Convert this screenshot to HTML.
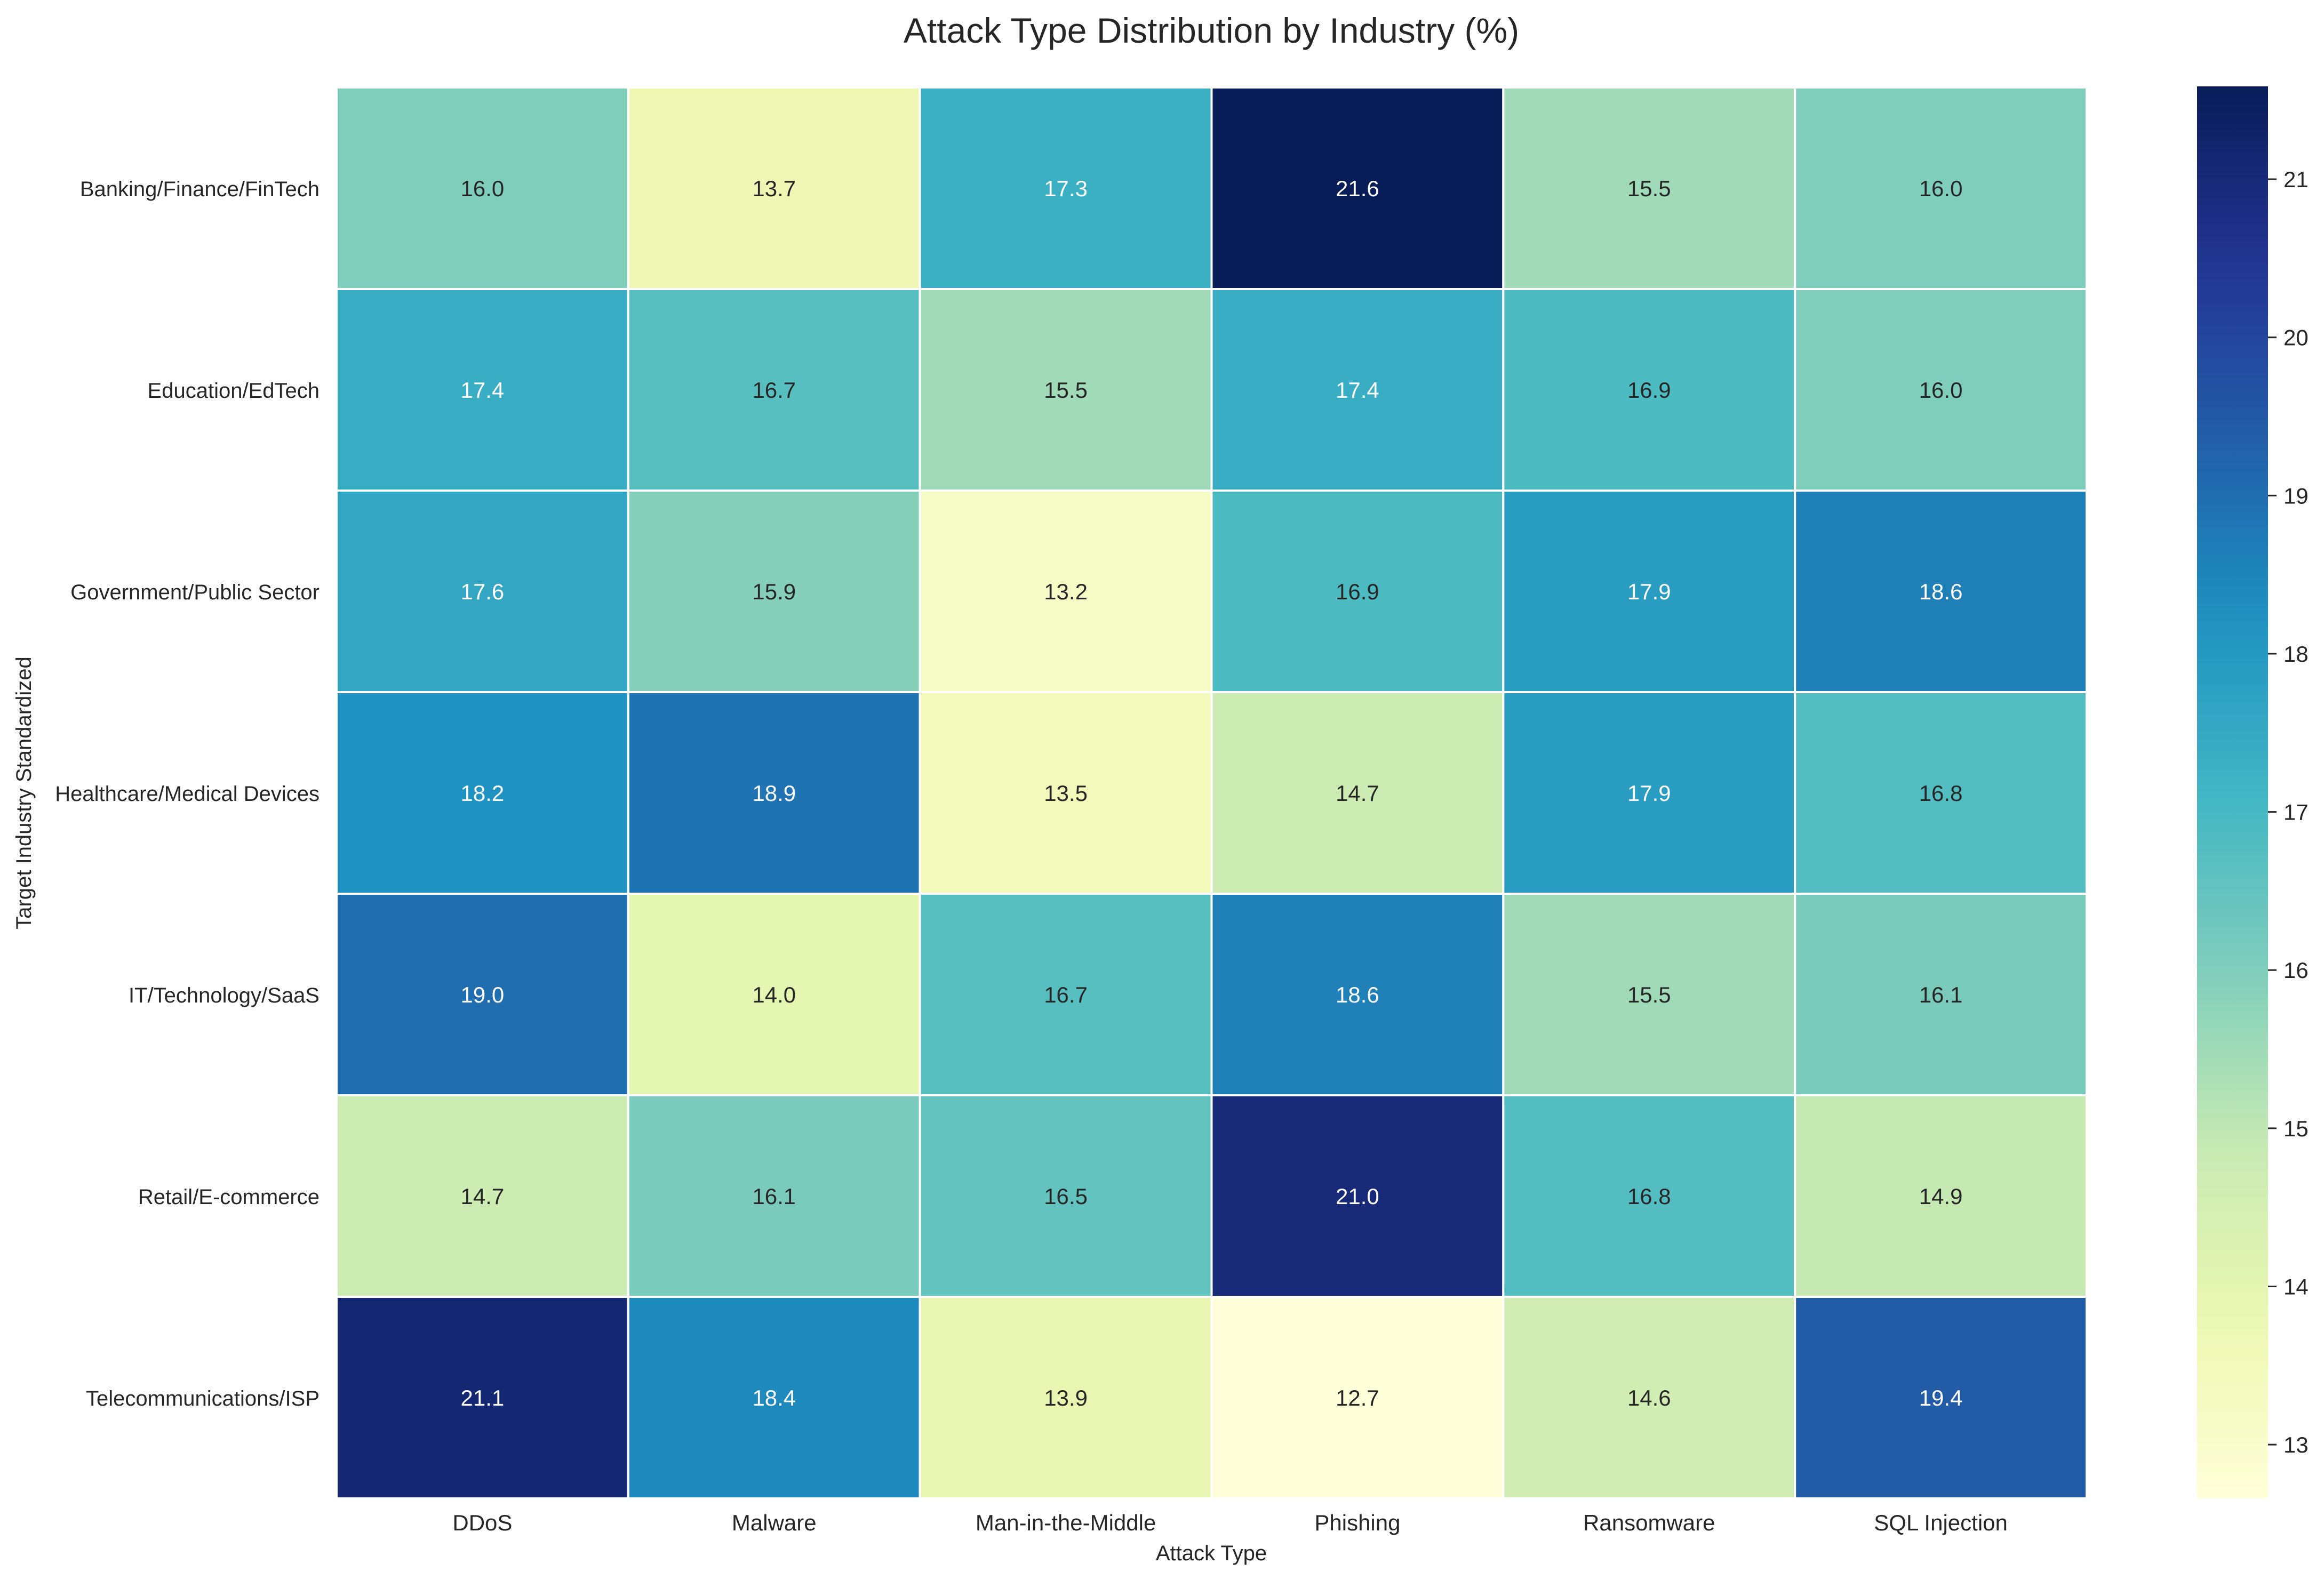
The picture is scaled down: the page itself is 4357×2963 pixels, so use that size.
<!DOCTYPE html>
<html><head><meta charset="utf-8"><style>
html,body{margin:0;padding:0;background:#fff;}
svg{display:block;font-family:"Liberation Sans",Arial,sans-serif;}
</style></head><body>
<svg id="chart" width="4357" height="2963" viewBox="0 0 4357 2963" xmlns="http://www.w3.org/2000/svg">
<text x="2271" y="80" font-size="66" text-anchor="middle" fill="#262626">Attack Type Distribution by Industry (%)</text>
<g id="cells"></g>
<g id="ylabels"></g>
<g id="xlabels"></g>
<text x="2271" y="2926" font-size="40" text-anchor="middle" fill="#262626">Attack Type</text>
<text x="0" y="0" transform="translate(58,1487) rotate(-90)" font-size="40" text-anchor="middle" fill="#262626">Target Industry Standardized</text>
<defs><linearGradient id="cbgrad" x1="0" y1="1" x2="0" y2="0"></linearGradient></defs>
<rect x="4119" y="162" width="133" height="2648" fill="url(#cbgrad)"/>
<g id="cbticks"></g>
</svg>
<script>
const industries = ["Banking/Finance/FinTech","Education/EdTech","Government/Public Sector","Healthcare/Medical Devices","IT/Technology/SaaS","Retail/E-commerce","Telecommunications/ISP"];
const attackTypes = ["DDoS","Malware","Man-in-the-Middle","Phishing","Ransomware","SQL Injection"];
const rowBanking = [16.0,13.7,17.3,21.6,15.5,16.0];
const rowEducation = [17.4,16.7,15.5,17.4,16.9,16.0];
const rowGovernment = [17.6,15.9,13.2,16.9,17.9,18.6];
const rowHealthcare = [18.2,18.9,13.5,14.7,17.9,16.8];
const rowIT = [19.0,14.0,16.7,18.6,15.5,16.1];
const rowRetail = [14.7,16.1,16.5,21.0,16.8,14.9];
const rowTelecom = [21.1,18.4,13.9,12.7,14.6,19.4];
const values = [rowBanking,rowEducation,rowGovernment,rowHealthcare,rowIT,rowRetail,rowTelecom];
const cbTicks = [13,14,15,16,17,18,19,20,21];

const NS="http://www.w3.org/2000/svg";
const L=631,R=3912,T=164,B=2810;
const cw=(R-L)/attackTypes.length, ch=(B-T)/industries.length;
const flat=values.flat();
const vmin=Math.min(...flat)-0.04, vmax=Math.max(...flat)-0.02;
const stops=["#ffffd9","#edf8b1","#c7e9b4","#7fcdbb","#41b6c4","#1d91c0","#225ea8","#253494","#081d58"].map(h=>[parseInt(h.slice(1,3),16),parseInt(h.slice(3,5),16),parseInt(h.slice(5,7),16)]);
function cmap(t){t=Math.max(0,Math.min(1,t));const p=t*(stops.length-1);const i=Math.min(Math.floor(p),stops.length-2);const f=p-i;
 return stops[i].map((c,k)=>Math.round(c+(stops[i+1][k]-c)*f));}
const xs=i=>L+i*cw, ys=j=>T+j*ch;
const yv=v=>B-(v-vmin)/(vmax-vmin)*(B-T);
const cells=document.getElementById('cells');
values.forEach((row,j)=>row.forEach((v,i)=>{
 const tn=(v-vmin)/(vmax-vmin);
 const c=cmap(tn);
 const r=document.createElementNS(NS,'rect');
 
 
 r.setAttribute('x',xs(i));r.setAttribute('y',ys(j));r.setAttribute('width',cw);r.setAttribute('height',ch);
 r.setAttribute('fill',`rgb(${c})`);r.setAttribute('stroke','#fff');r.setAttribute('stroke-width','4');
 cells.appendChild(r);
 const t=document.createElementNS(NS,'text');
 
 
 t.setAttribute('x',xs(i)+cw/2);t.setAttribute('y',ys(j)+ch/2+15);t.setAttribute('font-size','42');t.setAttribute('text-anchor','middle');
 t.setAttribute('fill',tn>0.478?'#ffffff':'#262626');
 t.textContent=v.toFixed(1);cells.appendChild(t);
}));
const yl=document.getElementById('ylabels');
industries.forEach((n,j)=>{const t=document.createElementNS(NS,'text');
 
 
 t.setAttribute('x',599);t.setAttribute('y',ys(j)+ch/2+15);t.setAttribute('font-size','40');t.setAttribute('text-anchor','end');t.setAttribute('fill','#262626');t.textContent=n;yl.appendChild(t);});
const xl=document.getElementById('xlabels');
attackTypes.forEach((n,i)=>{const t=document.createElementNS(NS,'text');
 
 
 t.setAttribute('x',xs(i)+cw/2);t.setAttribute('y',2870);t.setAttribute('font-size','42');t.setAttribute('text-anchor','middle');t.setAttribute('fill','#262626');t.textContent=n;xl.appendChild(t);});
const g=document.getElementById('cbgrad');
for(let k=0;k<=20;k++){const s=document.createElementNS(NS,'stop');s.setAttribute('offset',k/20);s.setAttribute('stop-color',`rgb(${cmap(k/20)})`);g.appendChild(s);}
const cb=document.getElementById('cbticks');
cbTicks.forEach(v=>{const y=yv(v);
 const l=document.createElementNS(NS,'line');
 
 
 l.setAttribute('x1',4252);l.setAttribute('x2',4268);l.setAttribute('y1',y);l.setAttribute('y2',y);l.setAttribute('stroke','#262626');l.setAttribute('stroke-width','3');cb.appendChild(l);
 const t=document.createElementNS(NS,'text');
 
 
 t.setAttribute('x',4281);t.setAttribute('y',y+15);t.setAttribute('font-size','42');t.setAttribute('fill','#262626');t.textContent=v;cb.appendChild(t);});
</script>
</body></html>
